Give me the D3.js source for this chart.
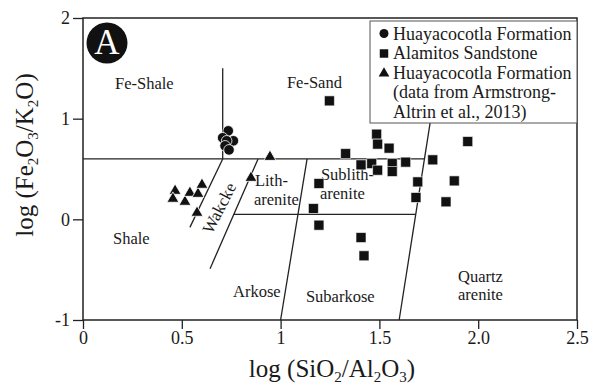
<!DOCTYPE html>
<html>
<head>
<meta charset="utf-8">
<script src="https://cdn.jsdelivr.net/npm/d3@7"></script>
<style>
  body { margin: 0; background: #fff; }
  svg text { font-family: "Liberation Serif", "Times New Roman", Times, "DejaVu Serif", serif; fill: #1a1a1a; }
</style>
</head>
<body>
<div id="chart"></div>
<script>
// Huayacocotla Formation (this study)
const huayaX = [0.735, 0.707, 0.761, 0.727, 0.719, 0.739]
const huayaY = [0.879, 0.81, 0.78, 0.78, 0.73, 0.69]
// Alamitos Sandstone
const alamX = [1.247, 1.486, 1.491, 1.549, 1.329, 1.407, 1.461, 1.491, 1.565, 1.565, 1.633,
               1.770, 1.947, 1.694, 1.879, 1.194, 1.685, 1.837, 1.166, 1.194, 1.407, 1.422]
const alamY = [1.177, 0.846, 0.747, 0.707, 0.653, 0.541, 0.554, 0.488, 0.554, 0.475, 0.568,
               0.591, 0.773, 0.372, 0.382, 0.356, 0.217, 0.174, 0.107, -0.058, -0.181, -0.362]
// Huayacocotla Formation (Armstrong-Altrin et al., 2013)
const armX = [0.466, 0.455, 0.516, 0.541, 0.582, 0.602, 0.577, 0.850, 0.946]
const armY = [0.283, 0.204, 0.174, 0.263, 0.253, 0.343, 0.065, 0.412, 0.62]

const xTicks = [0, 0.5, 1, 1.5, 2, 2.5]
const xTickLabels = ["0", "0.5", "1", "1.5", "2.0", "2.5"]
const yTicks = [-1, 0, 1, 2]
const yTickLabels = ["-1", "0", "1", "2"]

// classification boundaries (Herron, 1988), in data units
const boundaries = [
  [[0, 0.6], [1.728, 0.6]],
  [[0.707, 0.6], [0.707, 1.5]],
  [[0.707, 0.6], [0.541, -0.08]],
  [[0.886, 0.6], [0.643, -0.49]],
  [[1.134, 0.6], [1.0, -1]],
  [[0.763, 0.05], [1.684, 0.05]],
  [[1.6, -1], [1.76, 1.0]]
]
const fields = [
  ["Fe-Shale", 0.162, 1.29], ["Fe-Sand", 1.032, 1.30], ["Shale", 0.152, -0.245],
  ["Lith-", 0.87, 0.33], ["arenite", 0.865, 0.145], ["Sublith-", 1.204, 0.395],
  ["arenite", 1.199, 0.205], ["Arkose", 0.759, -0.77], ["Subarkose", 1.128, -0.82],
  ["Quartz", 1.898, -0.62], ["arenite", 1.898, -0.805]
]
const legendLabels = ["Huayacocotla Formation", "Alamitos Sandstone", "Huayacocotla Formation",
                      "(data from Armstrong-", "Altrin et al., 2013)"]

const width = 592, height = 384
const mLeft = 83, mRight = 577, mTop = 18, mBottom = 320
const serif = '"Liberation Serif", "Times New Roman", Times, "DejaVu Serif", serif'

const x = d3.scaleLinear().domain([0, 2.5]).range([mLeft, mRight])
const y = d3.scaleLinear().domain([-1, 2]).range([mBottom, mTop])

const svg = d3.select("#chart").append("svg")
  .attr("width", width)
  .attr("height", height)
  .attr("font-family", serif)

// boundaries
svg.append("g").selectAll("line")
  .data(boundaries)
  .join("line")
  .attr("x1", d => x(d[0][0])).attr("y1", d => y(d[0][1]))
  .attr("x2", d => x(d[1][0])).attr("y2", d => y(d[1][1]))
  .attr("stroke", "#222").attr("stroke-width", 1.3)

// field names
svg.append("g").selectAll("text")
  .data(fields)
  .join("text")
  .attr("x", d => x(d[1])).attr("y", d => y(d[2]))
  .attr("font-size", 16.5)
  .text(d => d[0])
svg.append("text")
  .attr("transform", "translate(" + x(0.688) + "," + y(0.114) + ") rotate(-63)")
  .attr("text-anchor", "middle").attr("dy", "0.35em")
  .attr("font-size", 17)
  .text("Wakcke")

// frame
svg.append("rect")
  .attr("x", mLeft).attr("y", mTop)
  .attr("width", mRight - mLeft).attr("height", mBottom - mTop)
  .attr("fill", "none").attr("stroke", "#222").attr("stroke-width", 1.5)

// axes
const xAxis = d3.axisBottom(x).tickValues(xTicks)
  .tickFormat((d, i) => xTickLabels[i]).tickSize(9).tickPadding(2)
const yAxis = d3.axisLeft(y).tickValues(yTicks)
  .tickFormat((d, i) => yTickLabels[i]).tickSize(10).tickPadding(3)
const gx = svg.append("g").attr("transform", "translate(0," + mBottom + ")").call(xAxis)
const gy = svg.append("g").attr("transform", "translate(" + mLeft + ",0)").call(yAxis)
;[gx, gy].forEach(g => {
  g.attr("font-family", serif)
  g.select(".domain").remove()
  g.selectAll("line").attr("stroke", "#222").attr("stroke-width", 1.3)
  g.selectAll("text").attr("font-size", 18).attr("fill", "#1a1a1a")
})

// axis titles
const xt = svg.append("text")
  .attr("x", (mLeft + mRight) / 2 + 2).attr("y", 377)
  .attr("text-anchor", "middle").attr("font-size", 25)
xt.append("tspan").text("log (SiO")
xt.append("tspan").attr("font-size", 15).attr("dy", 5).text("2")
xt.append("tspan").attr("dy", -5).text("/Al")
xt.append("tspan").attr("font-size", 15).attr("dy", 5).text("2")
xt.append("tspan").attr("dy", -5).text("O")
xt.append("tspan").attr("font-size", 15).attr("dy", 5).text("3")
xt.append("tspan").attr("dy", -5).text(")")

const yt = svg.append("text")
  .attr("transform", "translate(33," + 155 + ") rotate(-90)")
  .attr("text-anchor", "middle").attr("font-size", 25)
yt.append("tspan").text("log (Fe")
yt.append("tspan").attr("font-size", 15).attr("dy", 5).text("2")
yt.append("tspan").attr("dy", -5).text("O")
yt.append("tspan").attr("font-size", 15).attr("dy", 5).text("3")
yt.append("tspan").attr("dy", -5).text("/K")
yt.append("tspan").attr("font-size", 15).attr("dy", 5).text("2")
yt.append("tspan").attr("dy", -5).text("O)")

// data points
const tri = d3.symbol().type(d3.symbolTriangle).size(62)
const sq = d3.symbol().type(d3.symbolSquare).size(100)
svg.append("g").selectAll("path")
  .data(armX.map((v, i) => [v, armY[i]]))
  .join("path")
  .attr("transform", d => "translate(" + x(d[0]) + "," + y(d[1]) + ")")
  .attr("d", tri).attr("fill", "#111").attr("stroke", "#fff").attr("stroke-width", 0.8)
svg.append("g").selectAll("path")
  .data(alamX.map((v, i) => [v, alamY[i]]))
  .join("path")
  .attr("transform", d => "translate(" + x(d[0]) + "," + y(d[1]) + ")")
  .attr("d", sq).attr("fill", "#111").attr("stroke", "#fff").attr("stroke-width", 0.6)
svg.append("g").selectAll("circle")
  .data(huayaX.map((v, i) => [v, huayaY[i]]))
  .join("circle")
  .attr("cx", d => x(d[0])).attr("cy", d => y(d[1])).attr("r", 5.3)
  .attr("fill", "#111").attr("stroke", "#fff").attr("stroke-width", 0.8)

// legend
const lg = svg.append("g")
lg.append("rect").attr("x", 370).attr("y", 21).attr("width", 207).attr("height", 102)
  .attr("fill", "#fff").attr("stroke", "#555").attr("stroke-width", 1)
lg.selectAll("text").data(legendLabels).join("text")
  .attr("x", 393).attr("y", (d, i) => 39.5 + i * 19.5)
  .attr("font-size", 18).text(d => d)
lg.append("circle").attr("cx", 384).attr("cy", 33.5).attr("r", 4.5).attr("fill", "#111")
lg.append("path").attr("transform", "translate(384,53.5)").attr("d", d3.symbol().type(d3.symbolSquare).size(72)).attr("fill", "#111")
lg.append("path").attr("transform", "translate(384,73.5)").attr("d", d3.symbol().type(d3.symbolTriangle).size(50)).attr("fill", "#111")

// panel badge
svg.append("circle").attr("cx", 107).attr("cy", 43).attr("r", 20.5).attr("fill", "#111")
svg.append("text").attr("x", 107).attr("y", 54).attr("text-anchor", "middle")
  .attr("font-size", 35).style("fill", "#fff").text("A")
</script>
</body>
</html>
